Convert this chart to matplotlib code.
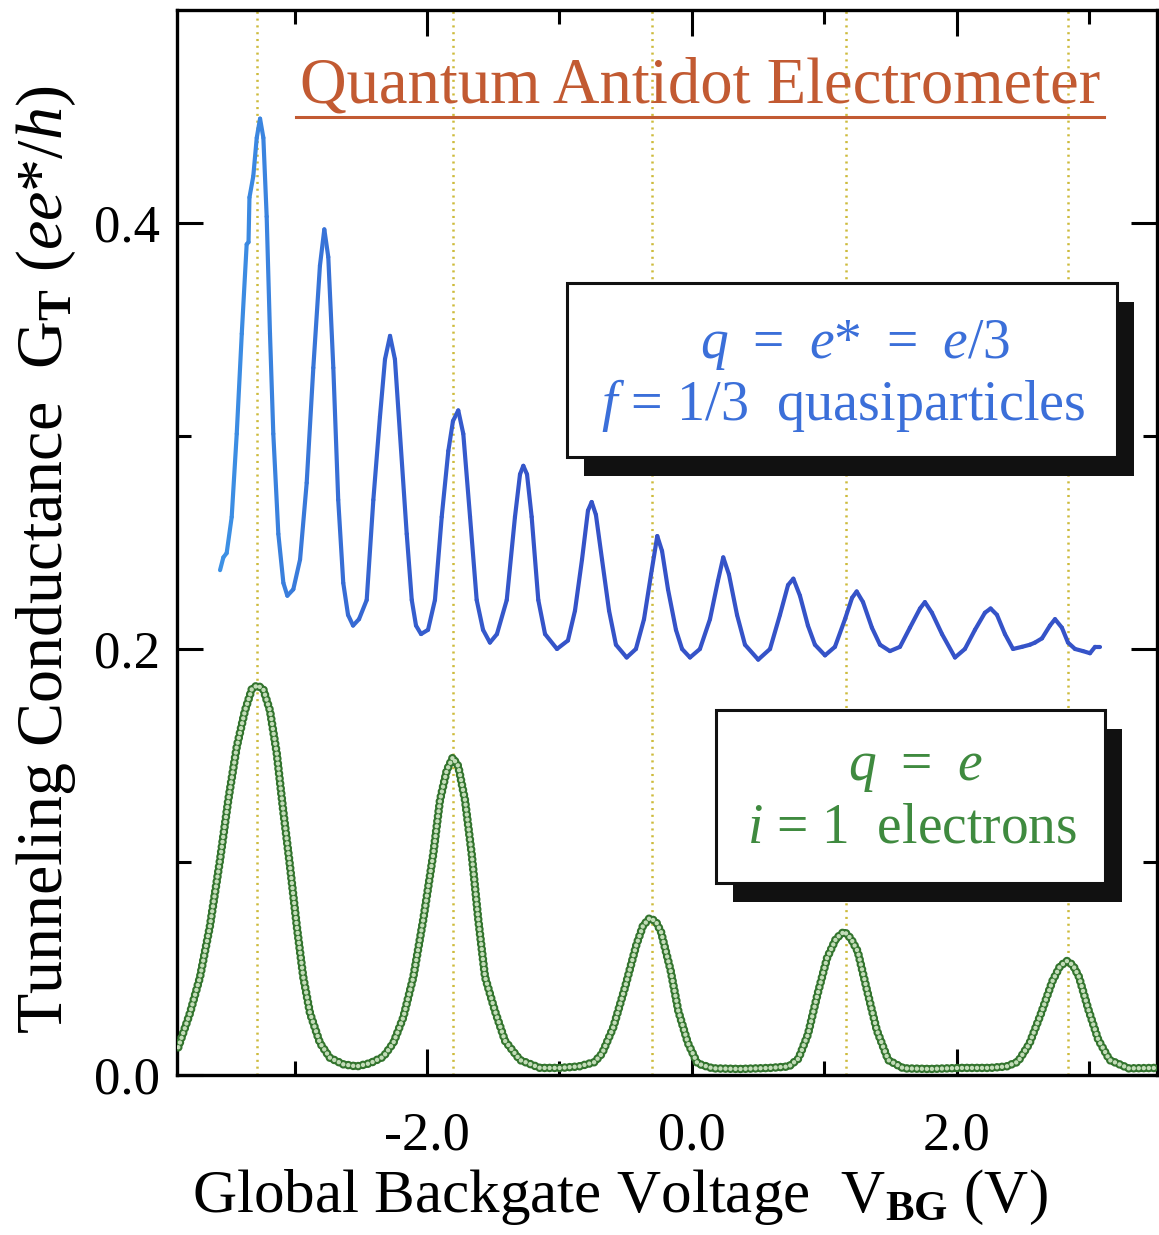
import numpy as np
import matplotlib
matplotlib.use("Agg")
import matplotlib.pyplot as plt
from matplotlib.collections import LineCollection
from matplotlib.colors import LinearSegmentedColormap
from matplotlib.patches import Rectangle
from matplotlib.lines import Line2D

plt.rcParams['font.family'] = ['Liberation Serif', 'DejaVu Serif']
plt.rcParams['mathtext.fontset'] = 'custom'
plt.rcParams['mathtext.rm'] = 'Liberation Serif'
plt.rcParams['mathtext.it'] = 'Liberation Serif:italic'
plt.rcParams['mathtext.bf'] = 'Liberation Serif:bold'
plt.rcParams['lines.scale_dashes'] = False

# f = 1/3 quasiparticle trace
blue_v = [-3.562, -3.537, -3.512, -3.474, -3.436, -3.398, -3.361, -3.347, -3.340, -3.311,
          -3.285, -3.260, -3.235, -3.210, -3.185, -3.160, -3.122, -3.084, -3.054, -3.009,
          -2.958, -2.908, -2.858, -2.808, -2.775, -2.745, -2.707, -2.670, -2.632, -2.596,
          -2.558, -2.513, -2.455, -2.405, -2.355, -2.317, -2.279, -2.242, -2.204, -2.153,
          -2.115, -2.083, -2.045, -1.992, -1.940, -1.889, -1.839, -1.804, -1.764, -1.726,
          -1.675, -1.625, -1.577, -1.525, -1.472, -1.398, -1.336, -1.298, -1.273, -1.245,
          -1.210, -1.160, -1.109, -1.019, -0.936, -0.883, -0.830, -0.785, -0.757, -0.725,
          -0.679, -0.626, -0.574, -0.493, -0.423, -0.362, -0.309, -0.262, -0.226, -0.181,
          -0.121, -0.075, -0.015, 0.060, 0.136, 0.196, 0.236, 0.279, 0.340, 0.400,
          0.500, 0.589, 0.664, 0.725, 0.765, 0.815, 0.875, 0.928, 1.004, 1.079,
          1.155, 1.208, 1.243, 1.291, 1.358, 1.419, 1.494, 1.570, 1.645, 1.721,
          1.758, 1.811, 1.887, 1.985, 2.060, 2.136, 2.211, 2.254, 2.302, 2.362,
          2.423, 2.491, 2.551, 2.589, 2.642, 2.702, 2.740, 2.792, 2.838, 2.891,
          2.951, 3.004, 3.042, 3.079]
blue_g = [0.237, 0.243, 0.245, 0.262, 0.301, 0.348, 0.390, 0.391, 0.412, 0.422,
          0.440, 0.449, 0.440, 0.403, 0.348, 0.301, 0.254, 0.231, 0.225, 0.228,
          0.242, 0.278, 0.332, 0.380, 0.397, 0.384, 0.332, 0.270, 0.231, 0.216,
          0.211, 0.214, 0.223, 0.270, 0.309, 0.336, 0.347, 0.336, 0.301, 0.254,
          0.223, 0.211, 0.207, 0.209, 0.223, 0.262, 0.293, 0.307, 0.312, 0.301,
          0.262, 0.223, 0.209, 0.203, 0.207, 0.223, 0.262, 0.282, 0.286, 0.282,
          0.262, 0.223, 0.207, 0.200, 0.204, 0.218, 0.242, 0.265, 0.269, 0.263,
          0.242, 0.218, 0.202, 0.196, 0.200, 0.214, 0.235, 0.253, 0.246, 0.228,
          0.209, 0.200, 0.196, 0.200, 0.214, 0.232, 0.243, 0.235, 0.216, 0.202,
          0.195, 0.200, 0.216, 0.230, 0.233, 0.225, 0.211, 0.202, 0.197, 0.201,
          0.214, 0.224, 0.227, 0.222, 0.210, 0.202, 0.199, 0.201, 0.210, 0.219,
          0.222, 0.217, 0.207, 0.196, 0.200, 0.209, 0.217, 0.219, 0.216, 0.207,
          0.200, 0.201, 0.202, 0.203, 0.205, 0.211, 0.214, 0.210, 0.203, 0.200,
          0.199, 0.198, 0.201, 0.201]

# i = 1 electron trace
green_v = [-3.877, -3.789, -3.713, -3.638, -3.562, -3.500, -3.436, -3.374, -3.323, -3.281,
           -3.235, -3.185, -3.134, -3.085, -3.034, -2.983, -2.934, -2.883, -2.808, -2.732,
           -2.632, -2.531, -2.430, -2.330, -2.254, -2.179, -2.103, -2.028, -1.952, -1.902,
           -1.851, -1.806, -1.764, -1.713, -1.663, -1.613, -1.562, -1.487, -1.411, -1.298,
           -1.147, -0.996, -0.853, -0.737, -0.679, -0.593, -0.506, -0.420, -0.370, -0.319,
           -0.272, -0.233, -0.161, -0.103, -0.031, 0.041, 0.156, 0.362, 0.589, 0.732,
           0.804, 0.875, 0.948, 1.020, 1.087, 1.149, 1.200, 1.251, 1.322, 1.395,
           1.481, 1.596, 1.796, 2.023, 2.249, 2.374, 2.460, 2.547, 2.633, 2.720,
           2.777, 2.829, 2.875, 2.921, 2.993, 3.066, 3.152, 3.296, 3.509]
green_g = [0.013, 0.029, 0.046, 0.070, 0.101, 0.129, 0.154, 0.171, 0.181, 0.183,
           0.181, 0.171, 0.151, 0.124, 0.098, 0.070, 0.046, 0.029, 0.015, 0.008,
           0.005, 0.004, 0.0055, 0.0085, 0.015, 0.027, 0.046, 0.073, 0.104, 0.129,
           0.143, 0.149, 0.145, 0.129, 0.104, 0.073, 0.046, 0.030, 0.016, 0.007,
           0.0033, 0.0033, 0.004, 0.006, 0.010, 0.0225, 0.041, 0.061, 0.070, 0.0737,
           0.072, 0.067, 0.049, 0.030, 0.015, 0.0054, 0.0031, 0.0028, 0.0033, 0.004,
           0.0077, 0.019, 0.038, 0.055, 0.064, 0.0674, 0.064, 0.058, 0.0395, 0.021,
           0.007, 0.0031, 0.0028, 0.0033, 0.0033, 0.004, 0.0062, 0.0147, 0.0286, 0.044,
           0.051, 0.0535, 0.0516, 0.046, 0.0305, 0.0166, 0.007, 0.0031, 0.0033]

peak_lines = [-3.28, -1.80, -0.30, 1.16, 2.84]

x_major = [-2.0, 0.0, 2.0]
x_major_labels = ['-2.0', '0.0', '2.0']
x_minor = [-3.0, -1.0, 1.0, 3.0]
y_major = [0.0, 0.2, 0.4]
y_major_labels = ['0.0', '0.2', '0.4']
y_minor = [0.1, 0.3]

fig = plt.figure(figsize=(11.59, 12.35), dpi=100)
ax = fig.add_axes([0.1527, 0.1296, 0.8456, 0.8623])
ax.set_xlim(-3.887, 3.51)
ax.set_ylim(0, 0.5)

# dotted guide lines through the electron peaks
for v in peak_lines:
    ax.axvline(v, color='#cdbb3c', lw=1.8, ls=(0, (1.5, 3.4)), zorder=1)

# electron trace: chain of open circles
dots = (0, (0.01, 3.6))
ax.plot(green_v, green_g, color='#33742e', lw=6.2, ls=dots,
        dash_capstyle='round', zorder=3)
ax.plot(green_v, green_g, color='#c4ddb9', lw=3.2, ls=dots,
        dash_capstyle='round', zorder=4)

# quasiparticle trace, colour shifting from light to deeper blue
pts = np.column_stack([blue_v, blue_g])
segs = np.stack([pts[:-1], pts[1:]], axis=1)
cmap = LinearSegmentedColormap.from_list('bl', ['#3d93e6', '#3560cf', '#3553c8'])
mid = (np.array(blue_v[:-1]) + np.array(blue_v[1:])) / 2
lc = LineCollection(segs, colors=cmap(np.clip((mid + 3.6) / 2.6, 0, 1)),
                    linewidths=3.0, capstyle='round', joinstyle='round', zorder=4)
ax.add_collection(lc)

# ticks and frame
ax.set_xticks(x_major)
ax.set_xticklabels(x_major_labels)
ax.set_xticks(x_minor, minor=True)
ax.set_yticks(y_major)
ax.set_yticklabels(y_major_labels)
ax.set_yticks(y_minor, minor=True)
ax.tick_params(which='both', direction='in', top=True, right=True, width=2.2)
ax.tick_params(which='major', length=19)
ax.tick_params(which='minor', length=10)
ax.tick_params(axis='x', labelsize=39, pad=26)
ax.tick_params(axis='y', labelsize=38, pad=12)
for s in ax.spines.values():
    s.set_linewidth(2.4)

fig.text(0.535, 0.0186, r"Global Backgate Voltage  V$_{\mathbf{BG}}$ (V)",
         fontsize=44, ha='center', va='baseline')
fig.text(0.040, 0.5466, r"Tunneling Conductance  G$_{\mathbf{T}}$ ($ee$*/$h$)",
         fontsize=47.5, ha='center', va='center', rotation=90)

# title with underline
title_color = '#c25a32'
title = ax.text(0.534, 0.913, 'Quantum Antidot Electrometer', color=title_color,
                fontsize=46.5, ha='center', va='baseline', zorder=6,
                transform=ax.transAxes)
fig.canvas.draw()
bb = title.get_window_extent().transformed(ax.transAxes.inverted())
ax.add_line(Line2D([bb.x0 - 0.004, bb.x1 + 0.004], [0.8995, 0.8995],
                   transform=ax.transAxes, color=title_color, lw=2.2, zorder=6))

# legend-like boxes with drop shadows
dx, dy = 0.0173, 0.0178


def shadow_box(x0, y0, w, h):
    ax.add_patch(Rectangle((x0 + dx, y0 - dy), w, h, transform=ax.transAxes,
                           facecolor='#111111', edgecolor='none', zorder=7))
    ax.add_patch(Rectangle((x0, y0), w, h, transform=ax.transAxes,
                           facecolor='white', edgecolor='#111111', lw=2.2, zorder=8))


shadow_box(0.398, 0.5803, 0.561, 0.1634)
shadow_box(0.550, 0.1803, 0.397, 0.1624)

blue_txt = '#3b6fd9'
green_txt = '#3f8a3f'
gap = ' \u2009'
ax.text(0.692, 0.673, r"$q$" + gap + "=" + gap + r"$e$*" + gap + "=" + gap + r"$e$/3",
        color=blue_txt, fontsize=40, ha='center', va='baseline',
        transform=ax.transAxes, zorder=9)
ax.text(0.680, 0.615, r"$f$ = 1/3  quasiparticles", color=blue_txt, fontsize=40.5,
        ha='center', va='baseline', transform=ax.transAxes, zorder=9)
ax.text(0.753, 0.277, r"$q$" + gap + "=" + gap + r"$e$", color=green_txt, fontsize=40,
        ha='center', va='baseline', transform=ax.transAxes, zorder=9)
ax.text(0.750, 0.218, r"$i$ = 1  electrons", color=green_txt, fontsize=40,
        ha='center', va='baseline', transform=ax.transAxes, zorder=9)

fig.savefig('out.png', dpi=100)
